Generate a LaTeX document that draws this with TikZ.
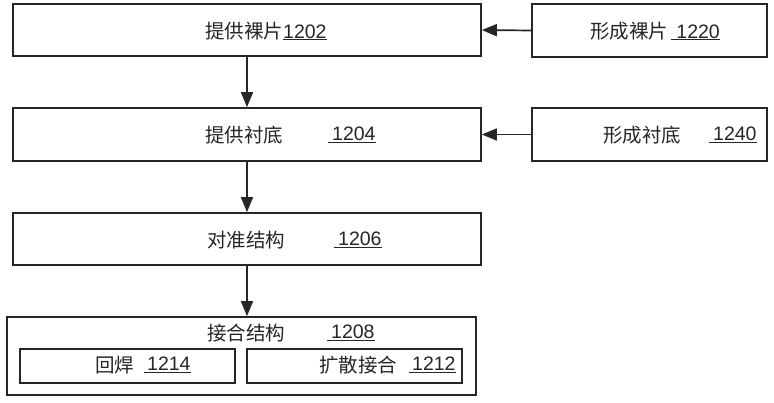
\documentclass[tikz,border=0pt]{standalone}
\usepackage{fontspec}
\setmainfont{Liberation Sans}
\newfontfamily\cjk{Noto Sans CJK SC}
\usetikzlibrary{arrows.meta}
\begin{document}
\begin{tikzpicture}[x=1pt,y=-1pt,
  box/.style={draw=black!85,line width=1.7pt,fill=white,inner sep=0pt},
  lbl/.style={anchor=west,inner sep=0pt,font=\fontsize{19.5}{22}\selectfont,text=black!85},
  arr/.style={line width=1.7pt,draw=black!85,-{Triangle[length=15pt,width=12pt]}}]
\useasboundingbox (0,0) rectangle (774,402);
% boxes
\node[box,minimum width=468pt,minimum height=52pt] (b1202) at (247,30) {};
\node[box,minimum width=235pt,minimum height=53pt] (b1220) at (649.5,30.5) {};
\node[box,minimum width=468pt,minimum height=53pt] (b1204) at (247,134.5) {};
\node[box,minimum width=235pt,minimum height=53pt] (b1240) at (649.5,134.5) {};
\node[box,minimum width=468pt,minimum height=52pt] (b1206) at (247,239) {};
\node[box,minimum width=469pt,minimum height=78pt] (b1208) at (241.5,356) {};
\node[box,minimum width=215pt,minimum height=34pt] (b1214) at (127.5,366) {};
\node[box,minimum width=215pt,minimum height=34pt] (b1212) at (354.5,366) {};
% texts
\node[lbl] (t1202) at (205,31) {{\cjk 提供裸片}\underline{1202}};
\node[lbl] (t1220) at (590,31) {{\cjk 形成裸片}\,\underline{\hspace{5pt}1220}};
\node[lbl] (t1204a) at (205,135) {\cjk 提供衬底};
\node[lbl] (t1204b) at (328,135) {\underline{\hspace{4pt}1204}};
\node[lbl] (t1240a) at (603,135) {\cjk 形成衬底};
\node[lbl] (t1240b) at (709,135) {\underline{\hspace{4pt}1240}};
\node[lbl] (t1206a) at (207,240) {\cjk 对准结构};
\node[lbl] (t1206b) at (334,240) {\underline{\hspace{4pt}1206}};
\node[lbl] (t1208a) at (207,333) {\cjk 接合结构};
\node[lbl] (t1208b) at (327,333) {\underline{\hspace{4pt}1208}};
\node[lbl] (t1214a) at (95,365) {\cjk 回焊};
\node[lbl] (t1214b) at (144,365) {\underline{\hspace{3pt}1214}};
\node[lbl] (t1212a) at (319,365) {\cjk 扩散接合};
\node[lbl] (t1212b) at (409,365) {\underline{\hspace{3pt}1212}};
% connectors
\draw[arr] (b1220.west) -- (b1202.east);
\draw[arr] (b1240.west) -- (b1204.east);
\draw[arr] (b1202.south) -- (b1204.north);
\draw[arr] (b1204.south) -- (b1206.north);
\draw[arr] (b1206.south) -- (b1206.south |- b1208.north);
\end{tikzpicture}
\end{document}
